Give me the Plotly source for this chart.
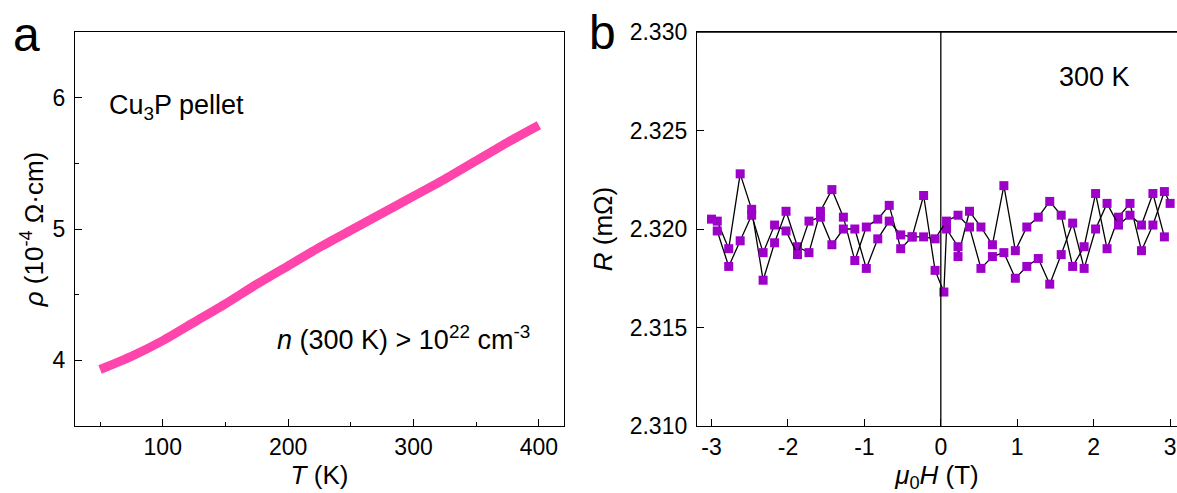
import plotly.graph_objects as go

# ---------- data ----------
# panel a: resistivity vs temperature
T_K = [50, 75, 100, 125, 150, 175, 200, 225, 250, 275, 300, 325, 350, 375, 400]
rho = [3.93, 4.03, 4.15, 4.29, 4.43, 4.58, 4.72, 4.86, 4.99, 5.12, 5.25, 5.38, 5.52, 5.66, 5.79]

# panel b: magnetoresistance at 300 K, two field sweeps
H_a = [-3.0, -2.925, -2.775, -2.625, -2.475, -2.325, -2.175, -2.025, -1.875, -1.725,
       -1.575, -1.425, -1.275, -1.125, -0.975, -0.825, -0.675, -0.525, -0.375, -0.225,
       -0.075, 0.04, 0.075, 0.225, 0.225, 0.375, 0.525, 0.675, 0.825, 0.975,
       1.125, 1.275, 1.425, 1.575, 1.725, 1.875, 2.025, 2.175, 2.325, 2.475,
       2.625, 2.775, 2.925, 3.0]
R_a = [2.3205, 2.3204, 2.3190, 2.3228, 2.3210, 2.3174, 2.3193, 2.3209, 2.3191, 2.3188,
       2.3209, 2.3220, 2.3206, 2.3184, 2.3201, 2.3205, 2.3212, 2.3190, 2.3196, 2.3217,
       2.3179, 2.3168, 2.3200, 2.3191, 2.3186, 2.3209, 2.3201, 2.3192, 2.3222, 2.3189,
       2.3201, 2.3206, 2.3214, 2.3207, 2.3181, 2.3191, 2.3218, 2.3190, 2.3206, 2.3213,
       2.3189, 2.3202, 2.3219, 2.3213]
H_b = [-2.925, -2.775, -2.625, -2.475, -2.325, -2.175, -2.025, -1.875, -1.725, -1.575,
       -1.425, -1.275, -1.125, -0.975, -0.825, -0.675, -0.525, -0.375, -0.225, -0.075,
       0.075, 0.225, 0.375, 0.525, 0.675, 0.825, 0.975, 1.125, 1.275, 1.425,
       1.575, 1.725, 1.875, 2.025, 2.175, 2.325, 2.475, 2.625, 2.775, 2.925]
R_b = [2.3199, 2.3181, 2.3194, 2.3207, 2.3188, 2.3202, 2.3199, 2.3187, 2.3204, 2.3206,
       2.3192, 2.3200, 2.3200, 2.3180, 2.3195, 2.3204, 2.3197, 2.3196, 2.3196, 2.3195,
       2.3204, 2.3207, 2.3201, 2.3180, 2.3186, 2.3188, 2.3175, 2.3181, 2.3185, 2.3172,
       2.3187, 2.3203, 2.3180, 2.3200, 2.3213, 2.3202, 2.3207, 2.3202, 2.3218, 2.3196]

xa_ticks = [100, 200, 300, 400]
ya_ticks = [4, 5, 6]
xb_ticks = [-3, -2, -1, 0, 1, 2, 3]
xb_labels = ["-3", "-2", "-1", "0", "1", "2", "3"]
yb_ticks = [2.310, 2.315, 2.320, 2.325, 2.330]

FONT = "Arial, Liberation Sans, sans-serif"
PINK = "#ff45ab"
PURPLE = "#9c00c9"

W, Hpx = 1177, 493
ML, MR, MT, MB = 0, 0, 32, 67


def paper_x(px):
    return (px - ML) / (W - ML - MR)


def paper_y(py):
    return (Hpx - MB - py) / (Hpx - MT - MB)


fig = go.Figure()

fig.add_trace(go.Scatter(x=T_K, y=rho, mode="lines",
                         line=dict(color=PINK, width=9, shape="spline", smoothing=0.6),
                         xaxis="x", yaxis="y", showlegend=False))

for hx, ry in ((H_a, R_a), (H_b, R_b)):
    fig.add_trace(go.Scatter(x=hx, y=ry, mode="lines+markers",
                             line=dict(color="black", width=1.3),
                             marker=dict(symbol="square", size=9, color=PURPLE,
                                         line=dict(width=0)),
                             xaxis="x2", yaxis="y2", showlegend=False))

axis_common = dict(showline=True, linecolor="black", linewidth=1.3, mirror=True,
                   ticks="inside", ticklen=7, tickwidth=1.2, tickcolor="black",
                   showgrid=False, zeroline=False, automargin=False,
                   tickfont=dict(family=FONT, size=23, color="black"))

fig.update_layout(
    width=W, height=Hpx,
    margin=dict(l=ML, r=MR, t=MT, b=MB),
    paper_bgcolor="white", plot_bgcolor="white",
    font=dict(family=FONT, color="black"),
    xaxis=dict(domain=[75 / W, 564 / W], range=[30, 420], tickvals=xa_ticks,
               minor=dict(ticks="inside", ticklen=4, tickwidth=1.2, tickcolor="black",
                          tick0=0, dtick=50),
               title=dict(text="<i>T</i> (K)", font=dict(family=FONT, size=26), standoff=4),
               anchor="y", **axis_common),
    yaxis=dict(domain=[0, 1], range=[3.5, 6.5], tickvals=ya_ticks, ticklabelstandoff=4,
               minor=dict(ticks="inside", ticklen=4, tickwidth=1.2, tickcolor="black",
                          tick0=0, dtick=0.5),
               title=dict(text="<i>ρ</i> (10<sup>-4</sup> Ω·cm)",
                          font=dict(family=FONT, size=26), standoff=1),
               anchor="x", **axis_common),
    xaxis2=dict(domain=[697 / W, 1.0], range=[-3.19, 3.09], tickvals=xb_ticks,
                ticktext=xb_labels,
                title=dict(text="<i>μ</i><sub>0</sub><i>H</i> (T)",
                           font=dict(family=FONT, size=26), standoff=4),
                anchor="y2", **axis_common),
    yaxis2=dict(domain=[0, 1], range=[2.310, 2.330], tickvals=yb_ticks, tickformat=".3f",
                ticklabelstandoff=4,
                title=dict(text="<i>R</i> (mΩ)", font=dict(family=FONT, size=26), standoff=9),
                anchor="x2", **{**axis_common, "mirror": False}),
)

# top border of panel b (no right border: panel is cut at the figure edge)
fig.add_shape(type="line", xref="x2 domain", yref="y2 domain", x0=0, x1=1, y0=1, y1=1,
              line=dict(color="black", width=1.3))
# vertical line at zero field
fig.add_shape(type="line", xref="x2", yref="y2 domain", x0=0, x1=0, y0=0, y1=1,
              line=dict(color="black", width=1.3))

fig.add_annotation(text="a", x=paper_x(11), y=paper_y(34), xref="paper", yref="paper",
                   xanchor="left", yanchor="middle", showarrow=False,
                   font=dict(family=FONT, size=48, color="black"))
fig.add_annotation(text="b", x=paper_x(587), y=paper_y(32), xref="paper", yref="paper",
                   xanchor="left", yanchor="middle", showarrow=False,
                   font=dict(family=FONT, size=48, color="black"))
fig.add_annotation(text="Cu<sub>3</sub>P pellet", x=paper_x(107), y=paper_y(107),
                   xref="paper", yref="paper", xanchor="left", yanchor="middle",
                   showarrow=False, font=dict(family=FONT, size=27, color="black"))
fig.add_annotation(text="<i>n</i> (300 K) > 10<sup>22</sup> cm<sup>-3</sup>",
                   x=paper_x(532), y=paper_y(338), xref="paper", yref="paper",
                   xanchor="right", yanchor="middle", showarrow=False,
                   font=dict(family=FONT, size=27, color="black"))
fig.add_annotation(text="300 K", x=paper_x(1094), y=paper_y(77), xref="paper",
                   yref="paper", xanchor="center", yanchor="middle", showarrow=False,
                   font=dict(family=FONT, size=27, color="black"))

fig.write_html("out.html", config={"displayModeBar": False},
               post_script="document.body.style.margin='0';document.body.style.overflow='hidden';")
